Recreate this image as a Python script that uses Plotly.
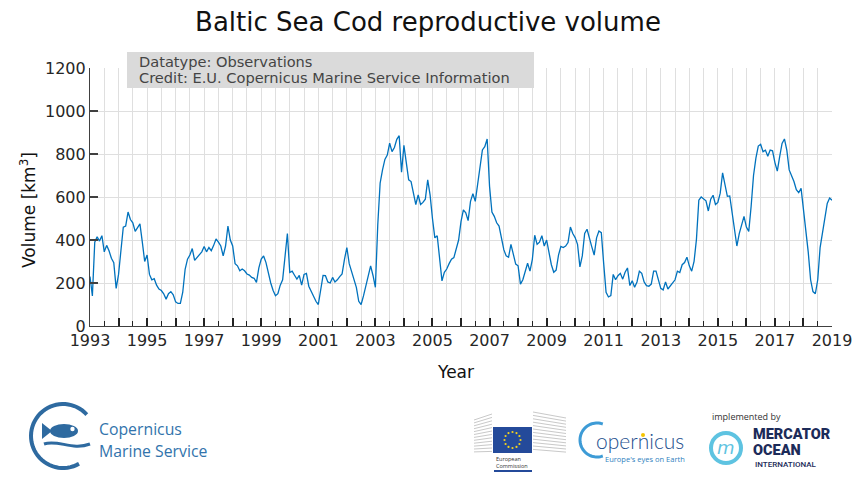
import numpy as np
import plotly.graph_objects as go

# ---------------- data (monthly) ----------------
start_year = 1993
vol_1993_1999 = [
    230, 140, 390, 415, 395, 420, 345, 375, 350, 315, 295, 175,   # 1993
    240, 360, 460, 465, 530, 495, 480, 440, 460, 475, 390, 300,   # 1994
    330, 240, 215, 220, 190, 172, 165, 150, 125, 150, 160, 145,   # 1995
    112, 105, 105, 157, 264, 311, 330, 360, 305, 320, 335, 345,   # 1996
    370, 345, 365, 350, 375, 405, 390, 372, 326, 372, 465, 400,   # 1997
    372, 290, 280, 257, 265, 257, 242, 237, 226, 222, 203, 270,   # 1998
    311, 326, 295, 240, 200, 165, 141, 150, 190, 215, 330, 430,   # 1999
]
vol_2000_2009 = [
    249, 255, 236, 218, 235, 190, 240, 245, 185, 160, 142, 115,   # 2000
    100, 165, 235, 234, 205, 200, 226, 205, 215, 230, 242, 310,   # 2001
    365, 290, 255, 220, 180, 115, 100, 140, 190, 235, 280, 235,   # 2002
    180, 470, 665, 726, 775, 795, 850, 811, 830, 868, 885, 715,   # 2003
    840, 760, 680, 672, 610, 565, 610, 565, 575, 590, 680, 610,   # 2004
    500, 410, 420, 300, 210, 250, 265, 290, 311, 318, 360, 400,   # 2005
    485, 540, 526, 490, 580, 615, 580, 665, 745, 819, 834, 870,   # 2006
    650, 530, 510, 480, 465, 410, 355, 326, 320, 380, 340, 288,   # 2007
    280, 195, 215, 250, 292, 255, 310, 422, 380, 390, 420, 372,   # 2008
    400, 342, 285, 250, 260, 330, 370, 365, 372, 388, 460, 430,   # 2009
]
vol_2010_2019 = [
    411, 380, 275, 326, 430, 450, 403, 368, 330, 410, 442, 434,   # 2010
    290, 157, 135, 141, 240, 215, 234, 245, 218, 250, 270, 188,   # 2011
    210, 180, 205, 255, 245, 205, 188, 185, 195, 255, 255, 208,   # 2012
    175, 168, 205, 172, 185, 203, 215, 255, 249, 285, 295, 320,   # 2013
    280, 255, 300, 403, 585, 600, 590, 582, 535, 590, 608, 565,   # 2014
    575, 618, 712, 650, 603, 605, 520, 430, 372, 430, 465, 510,   # 2015
    460, 440, 557, 700, 781, 837, 845, 811, 818, 790, 818, 815,   # 2016
    760, 720, 788, 849, 870, 818, 726, 698, 672, 634, 620, 640,   # 2017
    540, 455, 345, 215, 160, 150, 215, 365, 440, 505, 570, 595,   # 2018
    585,                                                          # 2019 Jan
]
year_ticks = list(range(1993, 2020))
year_labels = [str(y) if (y - 1993) % 2 == 0 else "" for y in year_ticks]
y_ticks = [0, 200, 400, 600, 800, 1000, 1200]

volume = vol_1993_1999 + vol_2000_2009 + vol_2010_2019
time = [start_year + i / 12 for i in range(len(volume))]

# ---------------- layout helpers (pixel -> paper) ----------------
W, H = 852, 492
L, R, T, B = 90, 832, 68, 326


def PX(x):
    return (x - L) / (R - L)


def PY(y):
    return (B - y) / (B - T)


def poly(points):
    return "M " + " L ".join(f"{PX(x):.5f},{PY(y):.5f}" for x, y in points)


def arc(cx, cy, r, a0, a1, n=48):
    ang = np.radians(np.linspace(a0, a1, n))
    return poly([(cx + r * np.cos(a), cy - r * np.sin(a)) for a in ang])


def circ(cx, cy, r, **kw):
    d = dict(type="circle", xref="paper", yref="paper",
             x0=PX(cx - r), x1=PX(cx + r), y0=PY(cy + r), y1=PY(cy - r))
    d.update(kw)
    return d


fig = go.Figure()
fig.add_trace(go.Scatter(x=time, y=volume, mode="lines",
                         line=dict(color="#0072BD", width=1.3),
                         showlegend=False, hoverinfo="skip"))

grid = "#dfdfdf"
axcol = "#404040"
font_main = "DejaVu Sans"

shapes = []
ann = []

# info box
shapes.append(dict(type="rect", xref="paper", yref="paper", layer="above",
                   x0=PX(127), x1=PX(534), y0=PY(88), y1=PY(52),
                   fillcolor="#dadada", line=dict(width=0)))
ann.append(dict(text="Datatype: Observations", x=PX(137), y=PY(62)))
ann.append(dict(text="Credit: E.U. Copernicus Marine Service Information", x=PX(137), y=PY(78)))
for a in ann:
    a.update(xref="paper", yref="paper", xanchor="left", yanchor="middle",
             showarrow=False, font=dict(family=font_main, size=14.6, color="#444444"))

# axis titles
ann.append(dict(text="Year", x=PX(455), y=PY(372), xref="paper", yref="paper",
                showarrow=False, xanchor="center", yanchor="middle",
                font=dict(family=font_main, size=17, color="#111111")))
ann.append(dict(text="Volume [km<sup>3</sup>]", x=PX(28), y=PY(210), xref="paper", yref="paper",
                showarrow=False, xanchor="center", yanchor="middle", textangle=-90,
                font=dict(family=font_main, size=17, color="#111111")))

# ---- Copernicus Marine Service logo ----
cms = "#2e6aa0"
shapes.append(dict(type="path", xref="paper", yref="paper", path=arc(63, 436, 32, 42, 300),
                   line=dict(color=cms, width=4)))
shapes.append(circ(64, 431, 14, fillcolor=cms, line=dict(width=0)))
shapes[-1].update(y0=PY(438), y1=PY(424))
shapes.append(dict(type="path", xref="paper", yref="paper",
                   path=poly([(42, 423), (52, 431), (42, 439)]) + " Z",
                   fillcolor=cms, line=dict(width=0)))
shapes.append(circ(72.5, 429, 2.2, fillcolor="white", line=dict(width=0)))
shapes.append(dict(type="path", xref="paper", yref="paper",
                   path=(f"M {PX(44)},{PY(444)} C {PX(58)},{PY(439)} {PX(72)},{PY(451)} {PX(90)},{PY(444)}"),
                   line=dict(color=cms, width=3)))
for txt, yy in (("Copernicus", 429), ("Marine Service", 451)):
    ann.append(dict(text=txt, x=PX(97), y=PY(yy), xref="paper", yref="paper", showarrow=False,
                    xanchor="left", yanchor="middle",
                    font=dict(family="Open Sans", size=15.8, color="#3274ac")))

# ---- European Commission logo ----
for i in range(12):
    yy = 414 + i * 3.4
    shapes.append(dict(type="line", xref="paper", yref="paper",
                       x0=PX(474), x1=PX(492), y0=PY(yy + 6 - i * 0.5), y1=PY(yy),
                       line=dict(color="#c9c9c9", width=1)))
    shapes.append(dict(type="line", xref="paper", yref="paper",
                       x0=PX(533), x1=PX(566), y0=PY(yy - 2), y1=PY(yy + 4 - i * 0.3),
                       line=dict(color="#c9c9c9", width=1)))
shapes.append(dict(type="rect", xref="paper", yref="paper", x0=PX(493), x1=PX(532),
                   y0=PY(453), y1=PY(427), fillcolor="#244a9a", line=dict(width=0)))
for k in range(12):
    a = np.radians(k * 30)
    shapes.append(circ(512.5 + 8 * np.cos(a), 440 - 8 * np.sin(a), 1.1,
                       fillcolor="#f4d31c", line=dict(width=0)))
for txt, yy in (("European", 458.5), ("Commission", 465.5)):
    ann.append(dict(text=txt, x=PX(494), y=PY(yy), xref="paper", yref="paper", showarrow=False,
                    xanchor="left", yanchor="middle",
                    font=dict(family="Open Sans", size=5.5, color="#333333")))
shapes.append(dict(type="line", xref="paper", yref="paper", x0=PX(494), x1=PX(532),
                   y0=PY(471), y1=PY(471), line=dict(color="#244a9a", width=2)))

# ---- Copernicus logo ----
shapes.append(dict(type="path", xref="paper", yref="paper", path=arc(597, 440, 17, 70, 290),
                   line=dict(color="#3d9bd6", width=3)))
ann.append(dict(text="opernicus", x=PX(594), y=PY(440), xref="paper", yref="paper", showarrow=False,
                xanchor="left", yanchor="middle",
                font=dict(family="Lato", size=21, color="#1d4f8e", weight=300)))
shapes.append(circ(643, 435, 2.0, fillcolor="#f5c400", line=dict(width=0)))
ann.append(dict(text="Europe's eyes on Earth", x=PX(687), y=PY(459), xref="paper", yref="paper",
                showarrow=False, xanchor="right", yanchor="middle",
                font=dict(family="Open Sans", size=7.5, color="#2f7fc0")))

# ---- Mercator Ocean logo ----
ann.append(dict(text="implemented by", x=PX(710), y=PY(416), xref="paper", yref="paper",
                showarrow=False, xanchor="left", yanchor="middle",
                font=dict(family="Open Sans", size=9, color="#333333")))
shapes.append(circ(726, 448, 15, line=dict(color="#5ec3e1", width=4)))
ann.append(dict(text="<i>m</i>", x=PX(726), y=PY(447), xref="paper", yref="paper",
                showarrow=False, xanchor="center", yanchor="middle",
                font=dict(family="DejaVu Sans", size=18, color="#5ec3e1")))
for txt, yy in (("MERCATOR", 435), ("OCEAN", 450.5)):
    ann.append(dict(text=txt, x=PX(751), y=PY(yy), xref="paper", yref="paper", showarrow=False,
                    xanchor="left", yanchor="middle",
                    font=dict(family="Roboto", size=14.5, color="#1c2b59", weight=900)))
ann.append(dict(text="INTERNATIONAL", x=PX(753), y=PY(464.5), xref="paper", yref="paper",
                showarrow=False, xanchor="left", yanchor="middle",
                font=dict(family="Roboto", size=8, color="#1c2b59", weight=500)))

fig.update_layout(
    width=W, height=H,
    margin=dict(l=L, r=W - R, t=T, b=H - B, pad=0, autoexpand=False),
    paper_bgcolor="white", plot_bgcolor="white",
    title=dict(text="Baltic Sea Cod reproductive volume", x=428 / W, xref="container",
               y=1 - 22 / H, yref="container", xanchor="center", yanchor="middle",
               font=dict(family=font_main, size=26, color="#111111")),
    xaxis=dict(range=[1993, 2019], tickmode="array", tickvals=year_ticks, ticktext=year_labels,
               ticks="inside", ticklen=8, tickwidth=1.5, tickcolor="#222222",
               ticklabeloverflow="allow", automargin=False,
               showgrid=True, gridcolor=grid, gridwidth=1,
               showline=True, linecolor=axcol, linewidth=1.2, zeroline=False,
               tickfont=dict(family=font_main, size=16, color="#262626"),
               minor=dict(dtick=0.5, tick0=1993, ticks="inside", ticklen=5, tickwidth=1,
                          tickcolor="#222222", showgrid=True, gridcolor=grid, gridwidth=1)),
    yaxis=dict(range=[0, 1200], tickmode="array", tickvals=y_ticks,
               ticks="inside", ticklen=8, tickwidth=1.5, tickcolor=axcol,
               automargin=False,
               showgrid=True, gridcolor=grid, gridwidth=1,
               showline=True, linecolor=axcol, linewidth=1.2, zeroline=False,
               tickfont=dict(family=font_main, size=16, color="#262626")),
    shapes=shapes, annotations=ann,
)

fig.write_html("out.html")
